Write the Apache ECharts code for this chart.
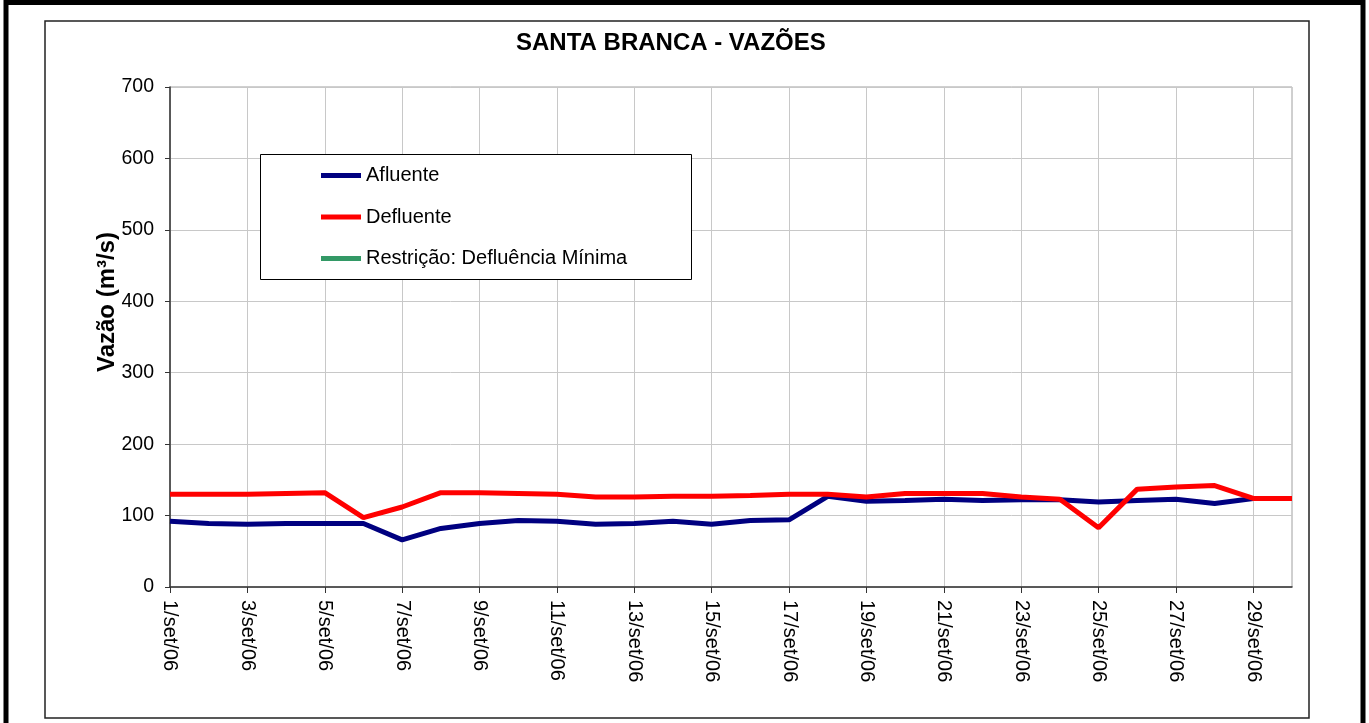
<!DOCTYPE html>
<html>
<head>
<meta charset="utf-8">
<title>Santa Branca - Vazões</title>
<script src="https://cdn.jsdelivr.net/npm/echarts@6/dist/echarts.min.js"></script>
<style>
  html, body { margin: 0; padding: 0; background: #fff; }
  #chart { width: 1369px; height: 723px; }
</style>
</head>
<body>
<div id="chart"></div>
<script>
// dias de setembro/2006
const days = [];
for (let d = 1; d <= 30; d++) days.push(d + "/set/06");

// vazões (m³/s)
const afluente = [92, 89, 88, 89, 89, 89, 66, 82, 89, 93,
                  92, 88, 89, 92, 88, 93, 94, 127, 120, 121,
                  123, 121, 122, 122, 119, 121, 123, 117, 124, 124];
const defluente = [130, 130, 130, 131, 132, 97, 112, 132, 132, 131,
                   130, 126, 126, 127, 127, 128, 130, 130, 126, 131,
                   131, 131, 126, 123, 83, 137, 140, 142, 124, 124];
// restrição não aparece no gráfico
const defluenciaMinima = [];

const yTicks = [0, 100, 200, 300, 400, 500, 600, 700];

const font = "Liberation Sans, Arial, sans-serif";

let myChart = echarts.init(document.getElementById("chart"));
myChart.setOption({
  animation: false,
  backgroundColor: "#fff",
  textStyle: { fontFamily: font, color: "#000" },
  title: {
    text: "SANTA BRANCA - VAZÕES",
    left: 516,
    top: 31,
    padding: 0,
    textStyle: { fontFamily: font, fontSize: 24, fontWeight: "bold", color: "#000" }
  },
  graphic: [
    {
      // moldura externa
      type: "rect",
      z: 0,
      shape: { x: 6, y: 2.5, width: 1357, height: 740 },
      style: { fill: null, stroke: "#000", lineWidth: 5 }
    },
    {
      // area do grafico
      type: "rect",
      z: 0,
      shape: { x: 45, y: 21, width: 1264, height: 697 },
      style: { fill: null, stroke: "#222", lineWidth: 1.5 }
    },
    {
      // caixa da legenda
      type: "rect",
      z: 5,
      shape: { x: 260.5, y: 154.5, width: 431, height: 125 },
      style: { fill: "#fff", stroke: "#000", lineWidth: 1 }
    },
    {
      type: "text",
      z: 5,
      x: 107,
      y: 302,
      rotation: Math.PI / 2,
      style: {
        text: "Vazão (m³/s)",
        font: "bold 24px " + font,
        fill: "#000",
        align: "center",
        verticalAlign: "middle"
      }
    }
  ],
  legend: {
    orient: "vertical",
    left: 321,
    top: 164.5,
    padding: 0,
    z: 10,
    itemGap: 19.5,
    itemWidth: 40,
    itemHeight: 5,
    icon: "rect",
    textStyle: { fontFamily: font, fontSize: 20, color: "#000", lineHeight: 22 },
    data: ["Afluente", "Defluente", "Restrição: Defluência Mínima"]
  },
  grid: {
    show: true,
    left: 170,
    top: 87,
    right: 77,
    bottom: 136,
    borderColor: "#a0a0a0",
    borderWidth: 1,
    containLabel: false
  },
  xAxis: {
    type: "category",
    data: days,
    boundaryGap: false,
    axisLine: { lineStyle: { color: "#333", width: 1.5 } },
    axisTick: { show: true, interval: 1, length: 6, lineStyle: { color: "#333" } },
    axisLabel: {
      interval: 1,
      rotate: -90,
      margin: 13,
      fontFamily: font,
      fontSize: 20,
      color: "#000"
    },
    splitLine: { show: true, interval: 1, lineStyle: { color: "#c8c8c8", width: 1 } }
  },
  yAxis: {
    type: "value",
    min: yTicks[0],
    max: yTicks[yTicks.length - 1],
    interval: 100,
    axisLine: { show: true, lineStyle: { color: "#333", width: 1.5 } },
    axisTick: { show: true, length: 5, lineStyle: { color: "#333" } },
    axisLabel: { margin: 16, fontFamily: font, fontSize: 19.5, color: "#000" },
    splitLine: { show: true, lineStyle: { color: "#c8c8c8", width: 1 } }
  },
  series: [
    {
      name: "Afluente",
      type: "line",
      data: afluente,
      showSymbol: false,
      symbol: "none",
      itemStyle: { color: "#000080" },
      lineStyle: { color: "#000080", width: 5 }
    },
    {
      name: "Defluente",
      type: "line",
      data: defluente,
      showSymbol: false,
      symbol: "none",
      itemStyle: { color: "#ff0000" },
      lineStyle: { color: "#ff0000", width: 5 }
    },
    {
      name: "Restrição: Defluência Mínima",
      type: "line",
      data: defluenciaMinima,
      showSymbol: false,
      symbol: "none",
      itemStyle: { color: "#339966" },
      lineStyle: { color: "#339966", width: 5 }
    }
  ]
});
</script>
</body>
</html>
